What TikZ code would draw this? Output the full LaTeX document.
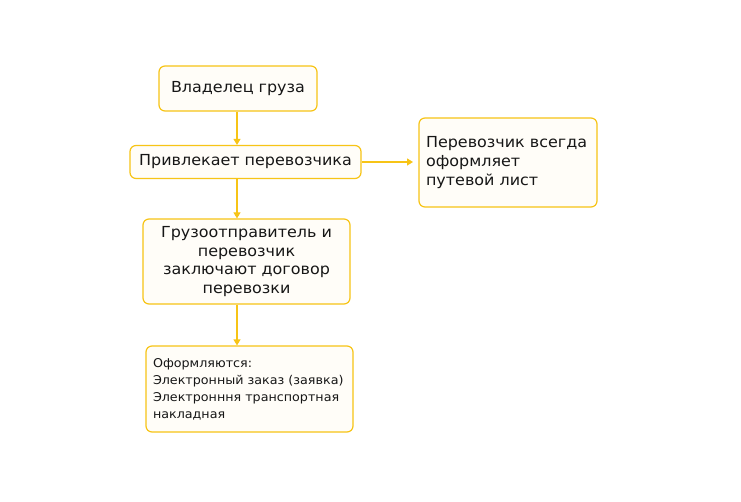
\documentclass[tikz,border=0pt]{standalone}
\usepackage{fontspec}
\setmainfont[FakeStretch=1.05]{DejaVu Sans}
\usetikzlibrary{arrows.meta}
\definecolor{bord}{HTML}{F7C416}
\definecolor{boxfill}{HTML}{FFFDF8}
\definecolor{txt}{HTML}{161616}
\begin{document}
\begin{tikzpicture}[x=1pt,y=-1pt,
  flowbox/.style={draw=bord, fill=boxfill, line width=1.2pt, rounded corners=6pt,
    text=txt, inner sep=0pt, font=\fontsize{15.2}{18.6}\selectfont},
  conn/.style={draw=bord, line width=1.2pt, -{Triangle[length=6pt,width=7pt]}}]
\path[use as bounding box, fill=white] (0,0) rectangle (741,502);
\node[flowbox, minimum width=158pt, minimum height=45pt] (owner) at (238,88.5) {Владелец груза};
\node[flowbox, minimum width=231pt, minimum height=33pt] (attract) at (245.5,162) {Привлекает перевозчика};
\node[flowbox, minimum width=207pt, minimum height=85pt, align=center] (contract) at (246.5,261.5)
  {Грузоотправитель и\\перевозчик\\заключают договор\\перевозки};
\node[flowbox, minimum width=207pt, minimum height=86pt] (docs) at (249.5,389)
  {\raisebox{5pt}{\parbox{193pt}{\raggedright\fontsize{12.1}{17}\selectfont Оформляются:\\Электронный заказ (заявка)\\Электронння транспортная\\накладная}}};
\node[flowbox, minimum width=178pt, minimum height=89pt, text width=164pt, align=left] (waybill) at (508,162.5)
  {Перевозчик всегда\\оформляет\\путевой лист};
\coordinate (arrEnd) at (413,162);
\draw[conn] (owner.south -| 237,0) -- (attract.north -| 237,0);
\draw[conn] (attract.south -| 237,0) -- (contract.north -| 237,0);
\draw[conn] (contract.south -| 237,0) -- (docs.north -| 237,0);
\draw[conn] (attract.east) -- (arrEnd);
\end{tikzpicture}
\end{document}
